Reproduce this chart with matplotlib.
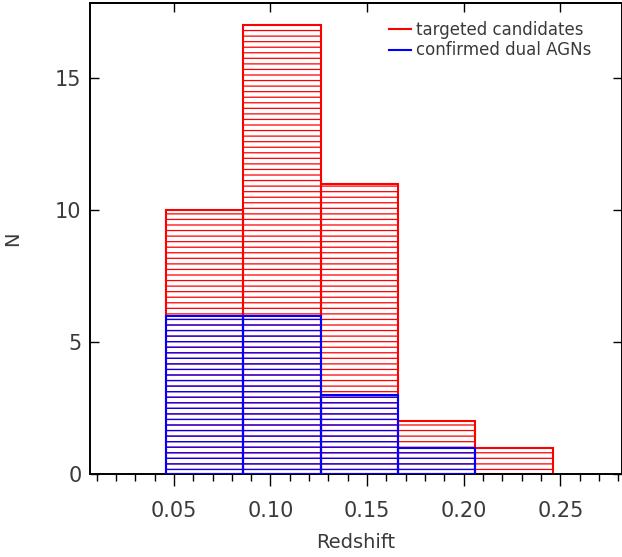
# Redshift histogram of targeted candidates vs confirmed dual AGNs
import numpy as np
import matplotlib
matplotlib.use('Agg')
import matplotlib.pyplot as plt
from matplotlib.ticker import MultipleLocator, FormatStrFormatter
from matplotlib.lines import Line2D

# bin left edges and counts
bin_left = [0.046, 0.086, 0.126, 0.166, 0.206]
bin_width = 0.04
n_targeted = [10, 17, 11, 2, 1]
n_confirmed = [6, 6, 3, 1, 0]

labels = ['targeted candidates', 'confirmed dual AGNs']
colors = ['red', 'blue']

plt.rcParams['font.family'] = 'DejaVu Sans'
plt.rcParams['hatch.linewidth'] = 0.9
txt_col = '#3a3a3a'

fig = plt.figure(figsize=(6.22, 5.57), dpi=100)
ax = fig.add_axes([90 / 622, 1 - 474 / 557, 532 / 622, 471 / 557])

# red histogram (all candidates)
ax.bar(bin_left, n_targeted, width=bin_width, align='edge', fill=False,
       edgecolor=colors[0], hatch='---', linewidth=1.5, zorder=2)

# blue histogram (confirmed), skip empty bins
conf_x = [x for x, n in zip(bin_left, n_confirmed) if n > 0]
conf_n = [n for n in n_confirmed if n > 0]
ax.bar(conf_x, conf_n, width=bin_width, align='edge', fill=False,
       edgecolor=colors[1], hatch='---', linewidth=1.5, zorder=3)

ax.set_xlim(0.0066, 0.2819)
ax.set_ylim(0, 17.85)

for s in ax.spines.values():
    s.set_linewidth(1.4)

ax.xaxis.set_major_locator(MultipleLocator(0.05))
ax.xaxis.set_minor_locator(MultipleLocator(0.01))
ax.xaxis.set_major_formatter(FormatStrFormatter('%.2f'))
ax.yaxis.set_major_locator(MultipleLocator(5))

ax.tick_params(axis='x', which='major', direction='out', length=8.5, width=1,
               top=False, pad=11, labelsize=15, labelcolor=txt_col)
ax.tick_params(axis='x', which='minor', direction='out', length=5, width=1, top=False)
ax.tick_params(axis='y', which='major', direction='in', length=6.5, width=1,
               left=True, right=True, pad=6, labelsize=15, labelcolor=txt_col)

# top axis: inward major ticks only
top = ax.secondary_xaxis('top')
top.xaxis.set_major_locator(MultipleLocator(0.05))
top.tick_params(direction='in', length=6.5, width=1, labeltop=False)
top.spines['top'].set_linewidth(1.4)

ax.set_xlabel('Redshift', fontsize=14, color=txt_col)
ax.xaxis.set_label_coords(0.5, -0.125)
ax.set_ylabel('N', fontsize=14, color=txt_col)
ax.yaxis.set_label_coords(-0.127, 0.5)

handles = [Line2D([], [], color=c, linewidth=1.5) for c in colors]
ax.legend(handles, labels, loc='upper left', bbox_to_anchor=(0.562, 0.962),
          frameon=False, fontsize=12, handlelength=1.3, handletextpad=0.3,
          labelspacing=0.15, borderpad=0, borderaxespad=0, labelcolor=txt_col)

fig.savefig('out.png', dpi=100)
